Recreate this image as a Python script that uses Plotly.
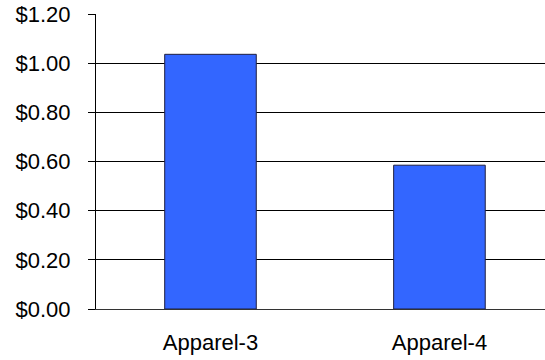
import plotly.graph_objects as go

# Average price per item, by product line
categories = ["Apparel-3", "Apparel-4"]
prices = [1.036, 0.585]
y_ticks = [0.0, 0.2, 0.4, 0.6, 0.8, 1.0, 1.2]
y_tick_labels = ["$%.2f" % v for v in y_ticks]

x_pos = list(range(len(categories)))

fig = go.Figure(
    go.Bar(
        x=x_pos,
        y=prices,
        width=0.4,
        marker=dict(color="#3366FF", line=dict(color="#1f1f3f", width=1)),
        hoverinfo="skip",
    )
)

font = dict(family="Liberation Sans, Arial, sans-serif", size=22, color="#000000")

fig.update_layout(
    width=545,
    height=360,
    margin=dict(l=96, r=0, t=14, b=51),
    paper_bgcolor="white",
    plot_bgcolor="white",
    showlegend=False,
    font=font,
)

fig.update_xaxes(
    range=[-0.5, 1.461],
    tickmode="array",
    tickvals=x_pos,
    ticktext=categories,
    ticks="",
    showgrid=False,
    zeroline=False,
    showline=True,
    linecolor="#333333",
    linewidth=1,
    ticklabelstandoff=14,
    tickfont=font,
)

fig.update_yaxes(
    range=[0, 1.2],
    tickmode="array",
    tickvals=y_ticks,
    ticktext=y_tick_labels,
    ticks="outside",
    ticklen=7,
    tickcolor="#000000",
    tickwidth=1,
    showgrid=True,
    gridcolor="#000000",
    gridwidth=1,
    zeroline=False,
    showline=True,
    linecolor="#000000",
    linewidth=1,
    ticklabelstandoff=13,
    tickfont=font,
)

# category boundary tick marks below the x axis
for xb in [-0.5, 0.5]:
    fig.add_shape(
        type="line",
        xref="x",
        yref="y",
        ysizemode="pixel",
        yanchor=0,
        x0=xb,
        x1=xb,
        y0=0,
        y1=-6,
        line=dict(color="#000000", width=1),
        layer="above",
    )

fig.write_html("out.html")
